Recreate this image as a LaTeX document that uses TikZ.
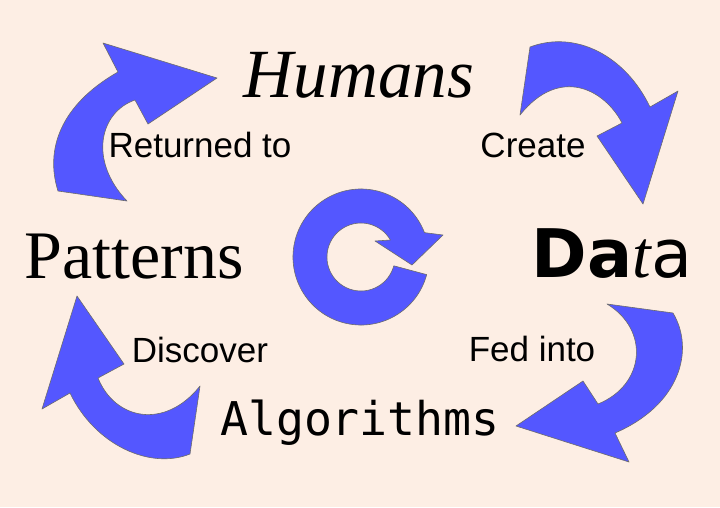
\documentclass[tikz,border=0pt]{standalone}
\usepackage{fontspec}
\usepackage{xcolor}
\usepackage{tikz}

\newfontfamily\verbfont{Liberation Sans}
\newfontfamily\serfont{Liberation Serif}
\newfontfamily\algofont{DejaVu Sans Mono}
\newfontfamily\heavyfont{DejaVu Sans}

\definecolor{paper}{HTML}{FDEEE4}
\definecolor{arrowblue}{HTML}{5457FF}

\tikzset{
  cyclearrow/.style={draw=gray!85!black, line width=0.6pt, fill=arrowblue, line join=round},
  verbtext/.style={anchor=base, inner sep=0pt, font=\verbfont\fontsize{35}{40}\selectfont},
  bigword/.style={anchor=base, inner sep=0pt}
}

\begin{document}
\begin{tikzpicture}[x=1pt, y=-1pt]
    \fill [paper] (0, 0) rectangle (720, 507);

    % returned to
    \draw [cyclearrow]
      (127, 201) -- (58, 191)
                 .. controls (45, 150) and (60, 105) .. (118, 72)
                 -- (103, 43) -- (217, 78) -- (148, 124) -- (135, 100)
                 .. controls (100, 112) and (88, 160) .. cycle;
    % create
    \draw [cyclearrow]
      (530, 47) .. controls (575, 30) and (625, 55) .. (650, 107)
                -- (678, 91) -- (643, 204) -- (597, 136) -- (622, 123)
                .. controls (605, 90) and (560, 65) .. (520, 115)
                -- cycle;
    % fed into
    \draw [cyclearrow]
      (607, 304) -- (673, 313)
                 .. controls (695, 350) and (680, 405) .. (615, 433)
                 -- (629, 462) -- (516, 426) -- (583, 381) -- (598, 404)
                 .. controls (645, 385) and (650, 330) .. cycle;
    % discover
    \draw [cyclearrow]
      (200, 386) -- (190, 454)
                 .. controls (150, 470) and (95, 445) .. (70, 393)
                 -- (42, 409) -- (77, 296) -- (124, 364) -- (98, 378)
                 .. controls (115, 420) and (165, 430) .. cycle;
    % the ring in the middle
    \draw [cyclearrow]
      (361, 257) ++(15:68) arc [start angle=15, end angle=339, radius=68]
                 -- (443, 235) -- (412, 265) -- (375, 241)
                 -- (390.4, 240)
                 arc [start angle=330, end angle=15, radius=34] -- cycle;

    \node [bigword, font=\serfont\itshape\fontsize{69}{72}\selectfont] (humans) at (359, 97) {Humans};
    \node [bigword, font=\serfont\fontsize{68}{72}\selectfont] (patterns) at (134, 278) {Patterns};
    \node [bigword, font=\fontsize{67}{70}\selectfont] (data) at (612, 277)
      {{\heavyfont\bfseries Da}{\serfont\itshape t}{\heavyfont a}};
    \node [bigword, font=\algofont\fontsize{46.5}{50}\selectfont] (algorithms) at (360, 435) {Algorithms};

    \node [verbtext] (returned) at (200, 157) {Returned to};
    \node [verbtext] (create) at (533, 157) {Create};
    \node [verbtext] (fed) at (532, 361) {Fed into};
    \node [verbtext] (discover) at (200, 362) {Discover};
\end{tikzpicture}
\end{document}
